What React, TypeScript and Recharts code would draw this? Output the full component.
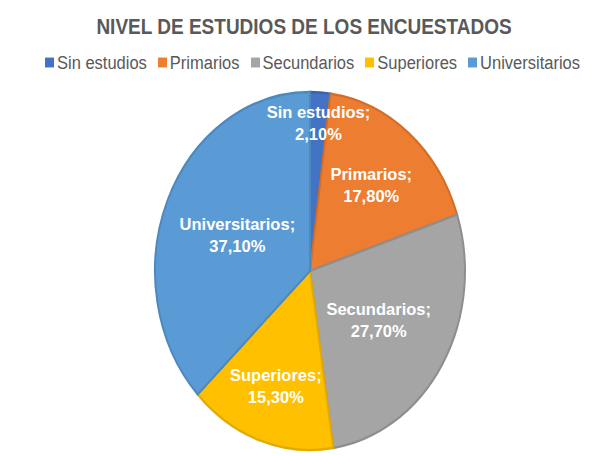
import React from 'react';
import { PieChart, Pie, Cell } from 'recharts';

const categories = ['Sin estudios', 'Primarios', 'Secundarios', 'Superiores', 'Universitarios'];
const percentages = [2.1, 17.8, 27.7, 15.3, 37.1];
const title = 'NIVEL DE ESTUDIOS DE LOS ENCUESTADOS';

const FILLS = ['#4472C4', '#ED7D31', '#A5A5A5', '#FFC000', '#5B9BD5'];
const STROKES = ['#3a63ae', '#d36d27', '#8e8e8e', '#e3aa00', '#4c89c0'];
const LABEL_R = [0.83, 0.62, 0.52, 0.68, 0.51];

const CX = 310;
const CY = 271;
const R = 155;
const K = 1.155; // vertical stretch

const data = categories.map((name, i) => ({ name, value: percentages[i] }));

const fmt = (v: number) => v.toFixed(2).replace('.', ',') + '%';

const renderLabel = (props: any) => {
  const { cx, cy, midAngle, outerRadius, index, name, value } = props;
  const rad = (midAngle * Math.PI) / 180;
  const r = outerRadius * LABEL_R[index];
  const x = cx + r * Math.cos(rad);
  const y = cy - r * Math.sin(rad) * K;
  return (
    <text
      x={x}
      y={y}
      textAnchor="middle"
      fill="#ffffff"
      fontFamily="'Liberation Sans', Arial, sans-serif"
      fontWeight="bold"
      fontSize={16.5}
    >
      <tspan x={x} y={y - 5}>{name};</tspan>
      <tspan x={x} y={y + 17}>{fmt(value)}</tspan>
    </text>
  );
};

export default function App() {
  return (
    <div
      style={{
        position: 'relative',
        width: 603,
        height: 456,
        marginLeft: -8,
        marginTop: -8,
        background: '#ffffff',
        overflow: 'hidden',
        fontFamily: "'Liberation Sans', Arial, sans-serif",
      }}
    >
      <style>{`.recharts-pie-sector { transform: scaleY(${K}); transform-origin: ${CX}px ${CY}px; }`}</style>
      <div
        style={{
          position: 'absolute',
          left: 7,
          top: 7,
          width: 640,
          height: 500,
          borderLeft: '1px solid #d9d9d9',
          borderTop: '1px solid #d9d9d9',
        }}
      />
      <div
        style={{
          position: 'absolute',
          left: 0,
          width: 608,
          top: 16,
          textAlign: 'center',
          fontWeight: 'bold',
          fontSize: 19,
          color: '#595959',
          transform: 'scaleY(1.12)',
        }}
      >
        {title}
      </div>
      <div
        style={{
          position: 'absolute',
          left: 0,
          width: 636,
          top: 53,
          display: 'flex',
          justifyContent: 'center',
          fontSize: 16.5,
          color: '#595959',
          transform: 'scaleY(1.1)',
        }}
      >
        {categories.map((c, i) => (
          <div key={c} style={{ display: 'flex', alignItems: 'center', marginRight: 11 }}>
            <span style={{ display: 'inline-block', width: 9, height: 9, background: FILLS[i], marginRight: 3 }} />
            <span>{c}</span>
          </div>
        ))}
      </div>
      <div style={{ position: 'absolute', left: 0, top: 0 }}>
        <PieChart width={603} height={456} margin={{ top: 0, right: 0, bottom: 0, left: 0 }}>
          <Pie
            data={data}
            dataKey="value"
            nameKey="name"
            cx={CX}
            cy={CY}
            outerRadius={R}
            startAngle={90}
            endAngle={-270}
            label={renderLabel}
            labelLine={false}
            isAnimationActive={false}
          >
            {data.map((d, i) => (
              <Cell key={d.name} fill={FILLS[i]} stroke={STROKES[i]} strokeWidth={2} />
            ))}
          </Pie>
        </PieChart>
      </div>
    </div>
  );
}
